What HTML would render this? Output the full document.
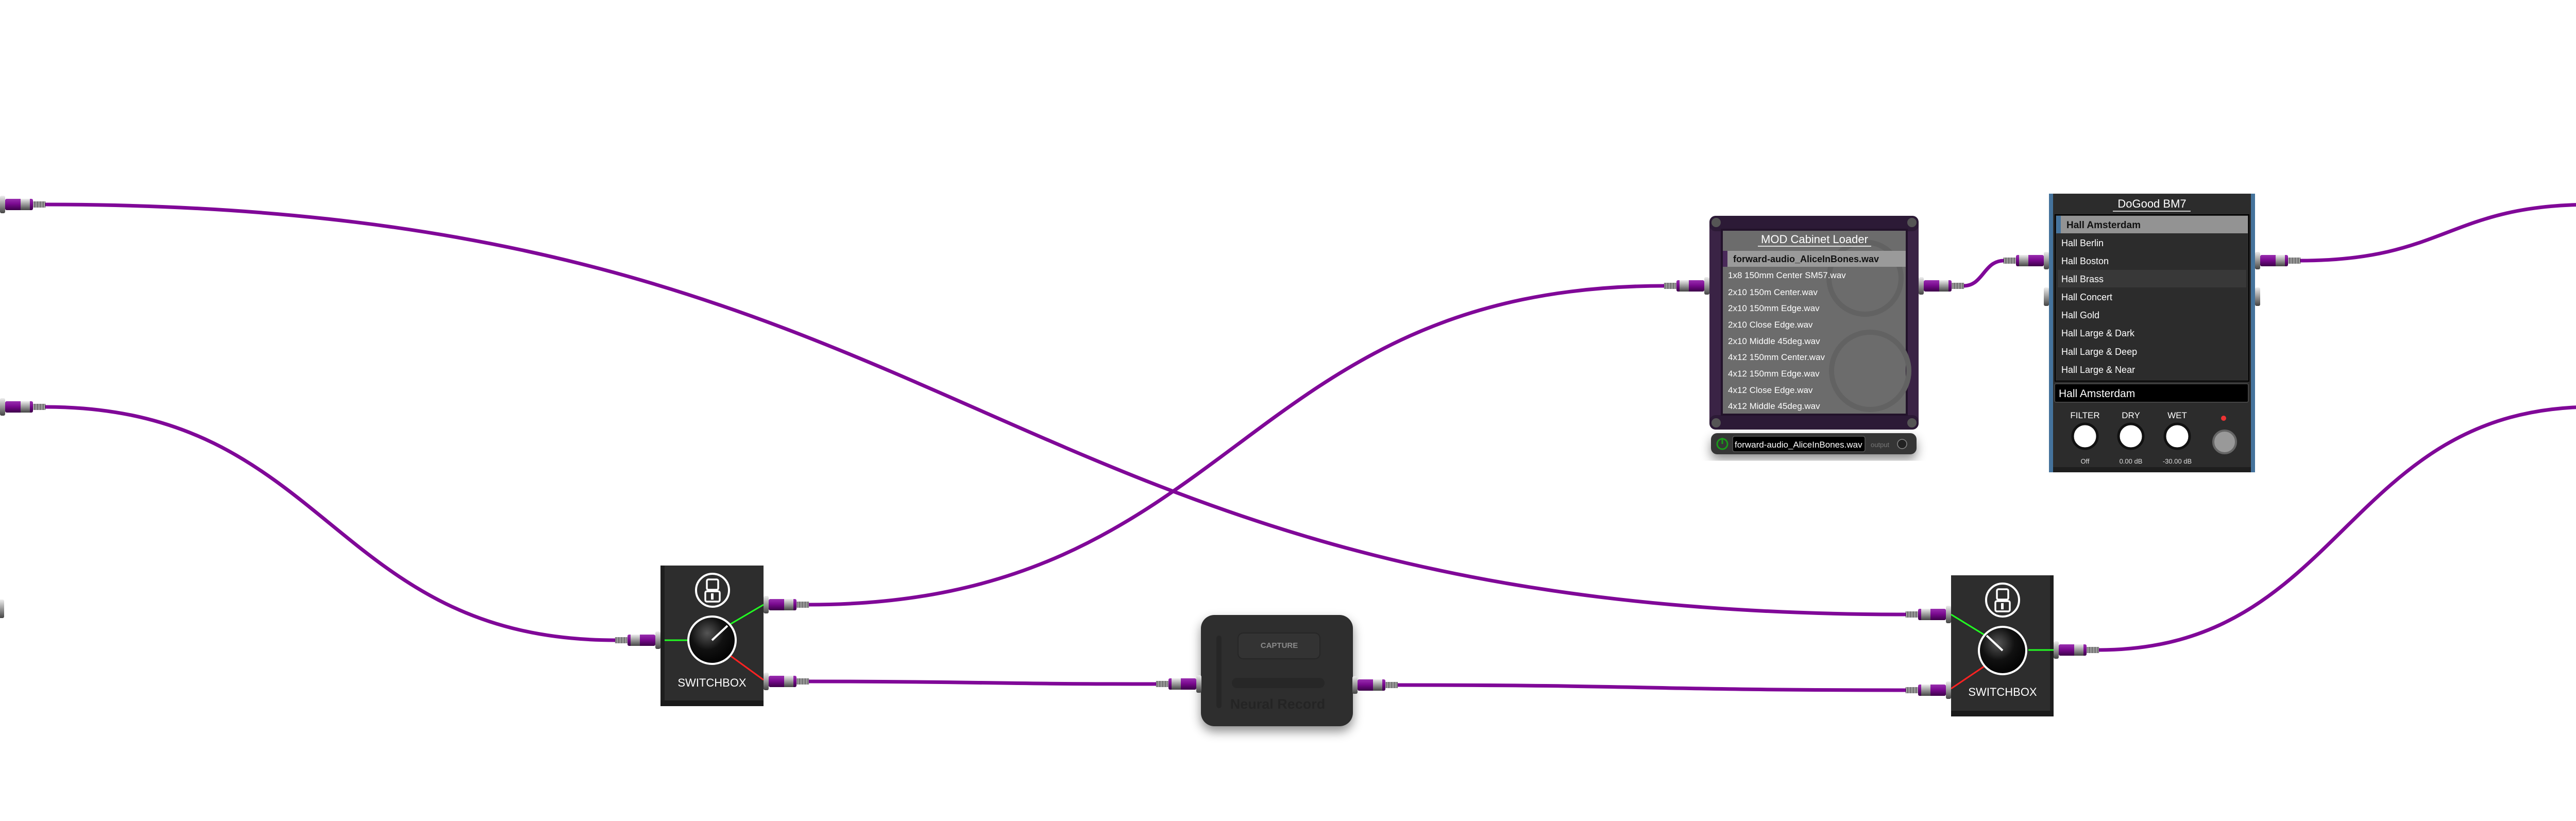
<!DOCTYPE html>
<html><head><meta charset="utf-8"><style>
html,body{margin:0;padding:0;background:#fff;}
body{width:5120px;height:1589px;overflow:hidden;}
svg text{font-family:"Liberation Sans",sans-serif;}
</style></head><body>
<svg width="5120" height="1589" viewBox="0 0 5120 1589" xmlns="http://www.w3.org/2000/svg">
<defs>
<linearGradient id="pg" x1="0" y1="0" x2="0" y2="1"><stop offset="0" stop-color="#9a30b0"/><stop offset="0.45" stop-color="#7a0a90"/><stop offset="1" stop-color="#3c0048"/></linearGradient>
<linearGradient id="sg" x1="0" y1="0" x2="0" y2="1"><stop offset="0" stop-color="#eee"/><stop offset="0.5" stop-color="#999"/><stop offset="1" stop-color="#444"/></linearGradient>
<pattern id="spr" width="3" height="10" patternUnits="userSpaceOnUse"><rect width="3" height="10" fill="#ddd"/><rect width="1.5" height="10" fill="#333"/></pattern>
<g id="jk">
<rect x="0" y="-17" width="10" height="34" rx="3" fill="url(#sg)"/>
<rect x="10" y="-11" width="54" height="22" rx="3" fill="url(#pg)"/>
<rect x="40" y="-11" width="18" height="22" fill="url(#sg)"/>
<rect x="64" y="-6" width="24" height="12" fill="url(#spr)"/>
</g>
<g id="sock"><rect x="0" y="-18" width="10" height="36" rx="3" fill="url(#sg)"/></g>
<radialGradient id="kn" cx="0.4" cy="0.35" r="0.7"><stop offset="0" stop-color="#555"/><stop offset="0.5" stop-color="#111"/><stop offset="1" stop-color="#000"/></radialGradient>
<filter id="sh" x="-20%" y="-20%" width="140%" height="150%"><feDropShadow dx="0" dy="10" stdDeviation="10" flood-opacity="0.45"/></filter>
</defs>

<!-- cables -->
<g fill="none" stroke="#800898" stroke-width="7" stroke-linecap="round">
<path d="M87,397 C1900,397 1900,1193 3700,1193"/>
<path d="M87,790 C640,790 640,1243 1195,1243"/>
<path d="M1569,1174 C2400,1174 2400,555 3231,555"/>
<path d="M1569,1323 C1900,1323 1900,1328 2245,1328"/>
<path d="M2712,1330 C3200,1330 3200,1340 3700,1340"/>
<path d="M3811,555 C3850,555 3850,506 3890,506"/>
<path d="M4464,506 C4750,506 4750,397 5033,397"/>
<path d="M4073,1262 C4550,1262 4550,790 5033,790"/>
</g>

<!-- edge jacks -->
<use href="#jk" transform="translate(0,397)"/>
<use href="#jk" transform="translate(0,790)"/>
<use href="#sock" transform="translate(-2,1182)"/>
<use href="#jk" transform="translate(5120,397) scale(-1,1)"/>
<use href="#jk" transform="translate(5120,790) scale(-1,1)"/>
<use href="#sock" transform="translate(5112,1182)"/>

<!-- Switchbox 1 -->
<g>
<rect x="1282" y="1098" width="200" height="273" fill="#2d2d2d"/>
<rect x="1282" y="1098" width="8" height="273" fill="#1e1e1e"/>
<rect x="1282" y="1360" width="200" height="11" fill="#1a1a1a"/>
<circle cx="1383" cy="1146" r="32" fill="none" stroke="#fff" stroke-width="4"/>
<rect x="1372" y="1125" width="22" height="20" rx="3" fill="none" stroke="#fff" stroke-width="3.5"/>
<rect x="1369" y="1148" width="28" height="20" rx="3" fill="none" stroke="#fff" stroke-width="3.5"/>
<rect x="1380" y="1152" width="5" height="12" fill="#fff"/>
<line x1="1290" y1="1243" x2="1336" y2="1243" stroke="#2f2" stroke-width="3"/>
<line x1="1412" y1="1215" x2="1482" y2="1174" stroke="#2f2" stroke-width="3"/>
<line x1="1416" y1="1272" x2="1482" y2="1320" stroke="#f22" stroke-width="3"/>
<circle cx="1382" cy="1243" r="46" fill="url(#kn)" stroke="#fff" stroke-width="4"/>
<line x1="1382" y1="1243" x2="1412" y2="1215" stroke="#fff" stroke-width="4"/>
<text x="1382" y="1333" font-size="22" fill="#fff" text-anchor="middle">SWITCHBOX</text>
</g>
<use href="#jk" transform="translate(1282,1243) scale(-1,1)"/>
<use href="#jk" transform="translate(1482,1174)"/>
<use href="#jk" transform="translate(1482,1323)"/>

<!-- Switchbox 2 -->
<g>
<rect x="3787" y="1117" width="199" height="274" fill="#2d2d2d"/>
<rect x="3979" y="1117" width="7" height="274" fill="#1e1e1e"/>
<rect x="3787" y="1380" width="199" height="11" fill="#1a1a1a"/>
<circle cx="3887" cy="1165" r="32" fill="none" stroke="#fff" stroke-width="4"/>
<rect x="3876" y="1144" width="22" height="20" rx="3" fill="none" stroke="#fff" stroke-width="3.5"/>
<rect x="3873" y="1167" width="28" height="20" rx="3" fill="none" stroke="#fff" stroke-width="3.5"/>
<rect x="3884" y="1171" width="5" height="12" fill="#fff"/>
<line x1="3787" y1="1193" x2="3854" y2="1234" stroke="#2f2" stroke-width="3"/>
<line x1="3854" y1="1292" x2="3787" y2="1337" stroke="#f22" stroke-width="3"/>
<line x1="3937" y1="1262" x2="3986" y2="1262" stroke="#2f2" stroke-width="3"/>
<circle cx="3887" cy="1263" r="46" fill="url(#kn)" stroke="#fff" stroke-width="4"/>
<line x1="3887" y1="1263" x2="3856" y2="1234" stroke="#fff" stroke-width="4"/>
<text x="3887" y="1351" font-size="22" fill="#fff" text-anchor="middle">SWITCHBOX</text>
</g>
<use href="#jk" transform="translate(3787,1193) scale(-1,1)"/>
<use href="#jk" transform="translate(3787,1340) scale(-1,1)"/>
<use href="#jk" transform="translate(3986,1262)"/>

<!-- Neural Record -->
<g filter="url(#sh)">
<rect x="2331" y="1194" width="295" height="216" rx="26" fill="#2f2f2f"/>
</g>
<rect x="2403" y="1229" width="159" height="50" rx="10" fill="#333" stroke="#262626" stroke-width="2"/>
<text x="2483" y="1258" font-size="15" font-weight="bold" fill="#8a8a8a" text-anchor="middle">CAPTURE</text>
<rect x="2391" y="1316" width="180" height="20" rx="10" fill="#272727"/>
<rect x="2361" y="1234" width="10" height="141" rx="5" fill="#262626"/>
<text x="2480" y="1376" font-size="27" font-weight="bold" fill="#242424" text-anchor="middle">Neural Record</text>
<use href="#jk" transform="translate(2332,1328) scale(-1,1)"/>
<use href="#jk" transform="translate(2625,1330)"/>

<!-- Cabinet loader -->
<g filter="url(#sh)">
<rect x="3321" y="841" width="399" height="41" rx="12" fill="#343434"/>
</g>
<rect x="3318" y="419" width="406" height="415" rx="14" fill="#3a2345"/>
<rect x="3318" y="419" width="406" height="30" rx="12" fill="#2c1a36"/>
<rect x="3318" y="806" width="406" height="28" rx="12" fill="#2c1a36"/>
<circle cx="3331" cy="432" r="9" fill="#555"/><circle cx="3711" cy="432" r="9" fill="#555"/>
<circle cx="3331" cy="821" r="9" fill="#555"/><circle cx="3711" cy="821" r="9" fill="#555"/>
<rect x="3342" y="446" width="359" height="359" fill="#6c6c6c" stroke="#22122a" stroke-width="4"/>
<circle cx="3620" cy="540" r="70" fill="none" stroke="#626262" stroke-width="10"/>
<circle cx="3630" cy="720" r="75" fill="none" stroke="#626262" stroke-width="10"/>
<text x="3522" y="472" font-size="22" fill="#fff" text-anchor="middle">MOD Cabinet Loader</text>
<line x1="3412" y1="478" x2="3632" y2="478" stroke="#ddd" stroke-width="2"/>
<rect x="3344" y="487" width="355" height="31" fill="#9a9a9a"/>
<rect x="3344" y="487" width="9" height="31" fill="#4a2a5a"/>
<text x="3364" y="509" font-size="18" font-weight="bold" fill="#111">forward-audio_AliceInBones.wav</text>
<g font-size="17" fill="#fff">
<text x="3354" y="540">1x8 150mm Center SM57.wav</text>
<text x="3354" y="573">2x10 150m Center.wav</text>
<text x="3354" y="604">2x10 150mm Edge.wav</text>
<text x="3354" y="636">2x10 Close Edge.wav</text>
<text x="3354" y="668">2x10 Middle 45deg.wav</text>
<text x="3354" y="699">4x12 150mm Center.wav</text>
<text x="3354" y="731">4x12 150mm Edge.wav</text>
<text x="3354" y="763">4x12 Close Edge.wav</text>
<text x="3354" y="794">4x12 Middle 45deg.wav</text>
</g>
<circle cx="3343" cy="862" r="10" fill="none" stroke="#1a9a1a" stroke-width="3"/>
<line x1="3343" y1="850" x2="3343" y2="862" stroke="#1a9a1a" stroke-width="3"/>
<rect x="3363" y="847" width="257" height="30" rx="4" fill="#000" stroke="#555" stroke-width="1.5"/>
<text x="3367" y="869" font-size="17" fill="#fff">forward-audio_AliceInBones.wav</text>
<text x="3631" y="868" font-size="13" fill="#777">output</text>
<circle cx="3692" cy="862" r="9" fill="#222" stroke="#888" stroke-width="1.5"/>
<use href="#jk" transform="translate(3318,555) scale(-1,1)"/>
<use href="#jk" transform="translate(3724,555)"/>

<!-- DoGood BM7 -->
<rect x="3977" y="376" width="400" height="541" fill="#2c2c2c"/>
<rect x="3977" y="376" width="8" height="541" fill="#45739c"/>
<rect x="4369" y="376" width="8" height="541" fill="#45739c"/>
<rect x="3985" y="907" width="384" height="10" fill="#1e1e1e"/>
<text x="4177" y="403" font-size="22" fill="#fff" text-anchor="middle">DoGood BM7</text>
<line x1="4101" y1="410" x2="4252" y2="410" stroke="#ccc" stroke-width="2"/>
<rect x="3989" y="417" width="376" height="323" fill="#2c2c2c" stroke="#000" stroke-width="2"/>
<rect x="3991" y="419" width="372" height="34" fill="#939393"/>
<rect x="3991" y="419" width="9" height="34" fill="#45739c"/>
<text x="4011" y="443" font-size="19" font-weight="bold" fill="#111">Hall Amsterdam</text>
<rect x="3994" y="524" width="366" height="34" fill="#383838"/>
<g font-size="18" fill="#fff">
<text x="4001" y="478">Hall Berlin</text>
<text x="4001" y="513">Hall Boston</text>
<text x="4001" y="548">Hall Brass</text>
<text x="4001" y="583">Hall Concert</text>
<text x="4001" y="618">Hall Gold</text>
<text x="4001" y="653">Hall Large &amp; Dark</text>
<text x="4001" y="689">Hall Large &amp; Deep</text>
<text x="4001" y="724">Hall Large &amp; Near</text>
</g>
<rect x="3988" y="745" width="376" height="36" rx="3" fill="#000" stroke="#444" stroke-width="2"/>
<text x="3996" y="771" font-size="21" fill="#fff">Hall Amsterdam</text>
<g font-size="17" fill="#fff" text-anchor="middle">
<text x="4047" y="812">FILTER</text><text x="4136" y="812">DRY</text><text x="4226" y="812">WET</text>
</g>
<g fill="#fff" stroke="#111" stroke-width="5">
<circle cx="4047" cy="847" r="24"/><circle cx="4136" cy="847" r="24"/><circle cx="4226" cy="847" r="24"/>
</g>
<g font-size="13" fill="#ddd" text-anchor="middle">
<text x="4047" y="900">Off</text><text x="4136" y="900">0.00 dB</text><text x="4226" y="900">-30.00 dB</text>
</g>
<circle cx="4316" cy="812" r="5" fill="#e33"/>
<circle cx="4318" cy="858" r="22" fill="#999" stroke="#666" stroke-width="4"/>
<use href="#jk" transform="translate(3977,506) scale(-1,1)"/>
<use href="#sock" transform="translate(3967,576)"/>
<use href="#jk" transform="translate(4377,506)"/>
<use href="#sock" transform="translate(4377,576)"/>
</svg>
</body></html>
